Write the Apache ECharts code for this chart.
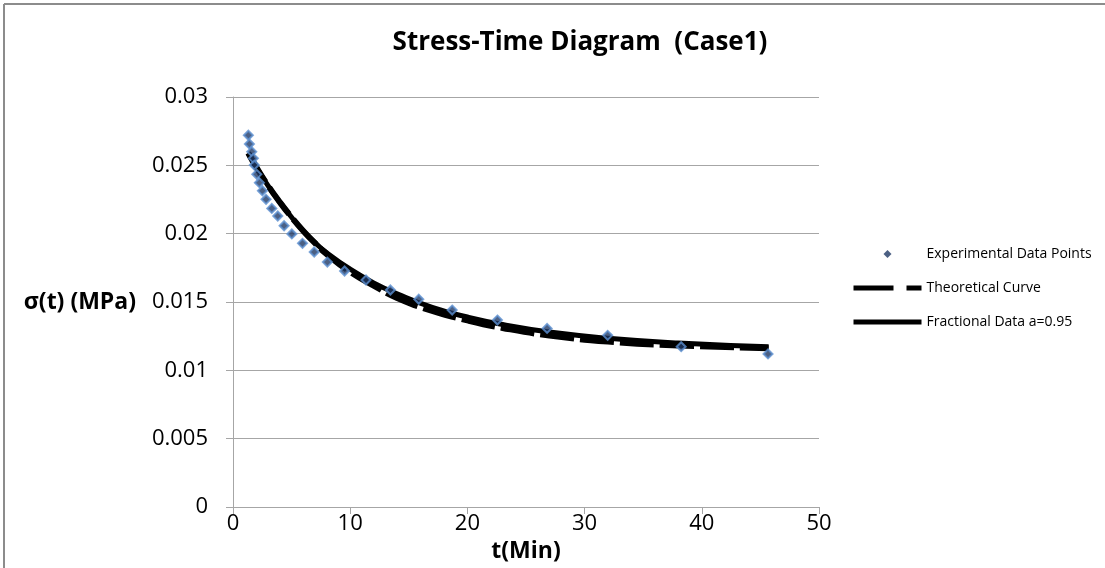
<!DOCTYPE html>
<html>
<head>
<meta charset="utf-8">
<script src="https://cdn.jsdelivr.net/npm/echarts@6/dist/echarts.min.js"></script>
<style>
  html, body { margin: 0; padding: 0; background: #fff; }
  #chart { width: 1105px; height: 568px; }
</style>
</head>
<body>
<div id="chart"></div>
<script>
// values
const expTime = [1.31, 1.4, 1.6, 1.74, 1.82, 2.03, 2.25, 2.51, 2.82, 3.31, 3.82, 4.36, 5.02, 5.93, 6.93, 8.05, 9.52, 11.35, 13.43, 15.85, 18.7, 22.56, 26.8, 31.97, 38.24, 45.65];
const expStress = [0.0272, 0.02656, 0.026, 0.02551, 0.02502, 0.02434, 0.02373, 0.02314, 0.02251, 0.02185, 0.02129, 0.02058, 0.01998, 0.01929, 0.01866, 0.01792, 0.01727, 0.01661, 0.01588, 0.0152, 0.01441, 0.01368, 0.01307, 0.01256, 0.01173, 0.0112];

const curveTime = [1.3, 2, 3, 4, 5, 6, 7, 8, 10, 12, 14, 17, 20, 23, 27, 32, 38, 45.7];
const theoryStress = [0.0259, 0.02485, 0.0235, 0.0223, 0.0212, 0.0202, 0.0193, 0.0185, 0.0172, 0.0162, 0.0153, 0.01435, 0.01365, 0.0131, 0.01255, 0.0121, 0.01182, 0.01162];
const fracStress = [0.0259, 0.02485, 0.0235, 0.0223, 0.0212, 0.0202, 0.01935, 0.0186, 0.0174, 0.0164, 0.0156, 0.0146, 0.0139, 0.01335, 0.0128, 0.01235, 0.012, 0.01172];

const FONT = 'Open Sans';

const zip = (xs, ys) => xs.map((x, i) => [x, ys[i]]);

const chart = echarts.init(document.getElementById('chart'), null, { renderer: 'canvas' });

const option = {
  animation: false,
  backgroundColor: '#fff',
  textStyle: { fontFamily: FONT },
  title: {
    text: 'Stress-Time Diagram  (Case1)',
    left: 575,
    top: 25,
    textAlign: 'center',
    textStyle: { fontFamily: FONT, fontSize: 26, fontWeight: 'bold', color: '#000' },
  },
  legend: {
    orient: 'vertical',
    left: 846,
    top: 242,
    itemWidth: 68,
    itemHeight: 8,
    itemGap: 20,
    textStyle: { fontFamily: FONT, fontSize: 14, color: '#000' },
    data: [
      {
        name: 'Experimental Data Points',
        icon: 'path://M5,0 L10,5 L5,10 L0,5 Z',
        itemStyle: { color: '#1f3864', borderWidth: 0 },
      },
      {
        name: 'Theoretical Curve',
        itemStyle: { color: 'rgba(0,0,0,0)', borderWidth: 0 },
        lineStyle: { color: '#000', width: 5, type: [40, 13] },
      },
      {
        name: 'Fractional Data a=0.95',
        itemStyle: { color: 'rgba(0,0,0,0)', borderWidth: 0 },
        lineStyle: { color: '#000', width: 5, type: 'solid' },
      },
    ],
  },
  grid: { left: 233, right: 286, top: 97, bottom: 61, containLabel: false },
  xAxis: {
    type: 'value',
    min: 0,
    max: 50,
    interval: 10,
    name: 't(Min)',
    nameLocation: 'middle',
    nameGap: 31,
    nameTextStyle: { fontFamily: FONT, fontSize: 23, fontWeight: 'bold', color: '#000' },
    axisLine: { show: true, lineStyle: { color: '#a6a6a6', width: 1 } },
    axisTick: { show: true, inside: false, length: 7, lineStyle: { color: '#a6a6a6' } },
    axisLabel: { fontFamily: FONT, fontSize: 22, color: '#000', margin: 6 },
    splitLine: { show: false },
  },
  yAxis: {
    type: 'value',
    min: 0,
    max: 0.03,
    interval: 0.005,
    name: 'σ(t) (MPa)',
    nameLocation: 'middle',
    nameRotate: 0,
    nameGap: 97,
    nameTextStyle: { fontFamily: FONT, fontSize: 23, fontWeight: 'bold', color: '#000' },
    axisLine: { show: true, lineStyle: { color: '#a6a6a6', width: 1 } },
    axisTick: { show: true, inside: false, length: 7, lineStyle: { color: '#a6a6a6' } },
    axisLabel: { fontFamily: FONT, fontSize: 22, color: '#000', margin: 25 },
    splitLine: { show: true, lineStyle: { color: '#a6a6a6', width: 1 } },
  },
  series: [
    {
      name: 'Experimental Data Points',
      type: 'scatter',
      symbol: 'diamond',
      symbolSize: 9,
      z: 3,
      itemStyle: { color: '#1f3864', borderColor: '#5b8fcf', borderWidth: 2 },
      data: zip(expTime, expStress),
    },
    {
      name: 'Theoretical Curve',
      type: 'line',
      smooth: true,
      symbol: 'none',
      z: 2,
      itemStyle: { color: '#000' },
      lineStyle: { color: '#000', width: 6, type: [34, 6] },
      data: zip(curveTime, theoryStress),
    },
    {
      name: 'Fractional Data a=0.95',
      type: 'line',
      smooth: true,
      symbol: 'none',
      z: 2,
      itemStyle: { color: '#000' },
      lineStyle: { color: '#000', width: 5 },
      data: zip(curveTime, fracStress),
    },
  ],
  graphic: [
    { type: 'line', shape: { x1: 4, y1: 4, x2: 1105, y2: 4 }, style: { stroke: '#8c8c8c', lineWidth: 2 } },
    { type: 'line', shape: { x1: 4, y1: 4, x2: 4, y2: 568 }, style: { stroke: '#8c8c8c', lineWidth: 2 } },
  ],
};

chart.setOption(option);
</script>
</body>
</html>
